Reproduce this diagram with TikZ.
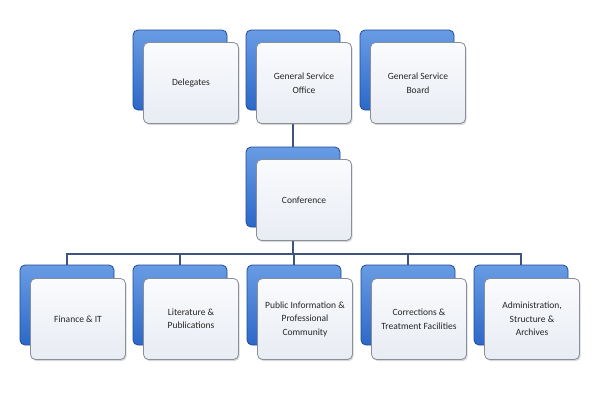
\documentclass[tikz,border=0pt]{standalone}
\usepackage{fontspec}
\setmainfont{Carlito}
\usetikzlibrary{shadows,backgrounds}

\definecolor{tabblue}{RGB}{44,104,200}
\definecolor{tabbluelight}{RGB}{104,156,228}
\definecolor{tabblueline}{RGB}{32,74,150}
\definecolor{cardtop}{RGB}{250,251,253}
\definecolor{cardbottom}{RGB}{232,236,243}
\definecolor{cardline}{RGB}{136,142,154}
\definecolor{linkblue}{RGB}{62,84,124}

\begin{document}
\begin{tikzpicture}[x=1pt, y=-1pt,
						tab/.style={rectangle, draw=tabblueline, line width=0.8pt, top color=tabbluelight, bottom color=tabblue, minimum width=94pt, minimum height=80pt, rounded corners=5pt},
						card/.style={rectangle, draw=cardline, line width=0.8pt, top color=cardtop, bottom color=cardbottom, minimum width=95pt, minimum height=81pt, rounded corners=5pt, align=center, text=black!85, font=\fontsize{9.5}{13.5}\selectfont, drop shadow={shadow xshift=1.2pt, shadow yshift=-1.6pt, opacity=0.3}},
						link/.style={line width=1.2pt, linkblue}
						]
						
						\useasboundingbox (0,0) rectangle (600,400);
						
						% Fila superior
						\node[tab] (delegatesB) at (180,70) {};
						\node[tab] (gsoB) at (293,70) {};
						\node[tab] (boardB) at (407,70) {};
						\node[card] (delegates) at ([shift={(11,13)}]delegatesB.center) {Delegates};
						\node[card] (gso) at ([shift={(11,13)}]gsoB.center) {General Service\\Office};
						\node[card] (board) at ([shift={(11,13)}]boardB.center) {General Service\\Board};
						
						% Conferencia
						\node[tab] (conferenceB) at (293,187) {};
						\node[card] (conference) at ([shift={(11,13)}]conferenceB.center) {Conference};
						
						% Fila inferior (comités)
						\node[tab] (financeB) at (67,305) {};
						\node[tab] (literatureB) at (180,305) {};
						\node[tab] (publicB) at (294,305) {};
						\node[tab] (correctionsB) at (408,305) {};
						\node[tab] (adminB) at (521,305) {};
						\node[card] (finance) at ([shift={(11,14)}]financeB.center) {Finance \& IT};
						\node[card] (literature) at ([shift={(11,14)}]literatureB.center) {Literature \&\\Publications};
						\node[card] (public) at ([shift={(11,14)}]publicB.center) {Public Information \&\\Professional\\Community};
						\node[card] (corrections) at ([shift={(11,14)}]correctionsB.center) {Corrections \&\\Treatment Facilities};
						\node[card] (admin) at ([shift={(11,14)}]adminB.center) {Administration,\\Structure \&\\Archives};
						
						% Conectores (detrás de las cajas)
						\begin{scope}[on background layer]
							\fill[white] (0,0) rectangle (600,400);
							\draw[link] (gsoB.center) -- (conferenceB.north);
							\draw[link] (conferenceB.center) -- ++(0,67) coordinate (bus);
							\draw[link] (financeB.north) |- (bus) -| (adminB.north);
							\draw[link] (literatureB.north) -- (literatureB.north |- bus);
							\draw[link] (publicB.north) -- (publicB.north |- bus);
							\draw[link] (correctionsB.north) -- (correctionsB.north |- bus);
						\end{scope}
						
					\end{tikzpicture}
\end{document}
